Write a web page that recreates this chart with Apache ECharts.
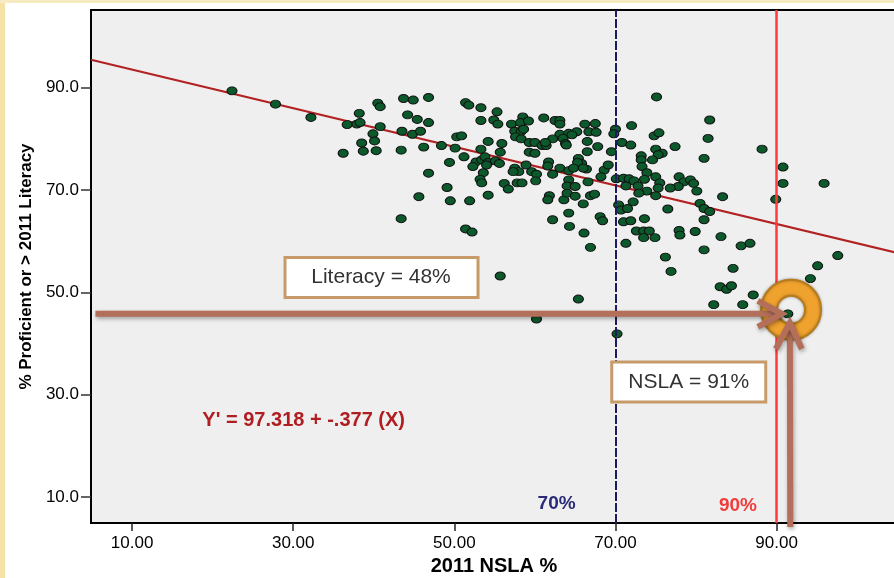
<!DOCTYPE html>
<html><head><meta charset="utf-8">
<script src="https://cdn.jsdelivr.net/npm/echarts@6/dist/echarts.min.js"></script>
<style>html,body{margin:0;padding:0;background:#fff;}#c{width:894px;height:578px;}</style>
</head><body><div id="c"></div>
<script>
// ---- Data ----
const xTicks = [10, 30, 50, 70, 90];
const yTicks = [10, 30, 50, 70, 90];
const nsla = [
22.4,27.8,32.2,40.5,40.8,38.2,43.7,44.9,46.8,44.2,45.4,46.8,36.7,37.9,38.3,40.8,39.9,43.5,44.8,45.8,
38.5,40.1,36.2,38.7,40.3,43.4,46.2,46.8,45.6,43.4,
51.4,51.8,53.3,55.3,53.3,54.9,55.4,57.1,58.5,58.2,59.2,57.5,58.3,58.6,57.6,58.3,61.1,62.5,63.1,63.1,
63.1,64.2,62.2,63.5,63.8,50.3,50.9,48.4,50.1,54.2,55.9,59.3,60.0,60.9,61.4,61.3,53.3,55.7,59.3,60.0,
51.2,49.4,52.7,53.4,53.8,54.2,55.1,55.6,52.3,54.0,57.5,58.0,57.3,58.9,59.6,60.2,61.7,61.6,62.2,63.1,
64.2,53.6,53.2,53.4,56.2,56.7,57.8,58.4,60.1,64.2,64.0,49.1,49.5,51.9,54.2,61.8,61.6,63.6,64.0,62.2,
64.2,64.3,51.4,52.2,
75.1,81.7,66.2,67.5,70.0,69.8,72.0,65.2,66.7,67.6,64.6,63.9,74.8,75.4,81.5,66.5,67.8,70.8,71.9,77.4,
75.0,75.8,75.3,74.6,66.5,69.5,73.2,73.2,65.4,65.8,65.3,81.0,73.3,73.9,64.8,66.4,66.0,68.6,69.1,68.2,
75.0,70.1,71.0,71.7,72.3,72.8,73.6,75.5,75.3,77.9,78.5,79.3,79.7,77.8,76.8,80.1,66.6,65.0,65.0,66.9,
67.4,66.0,71.3,73.9,72.9,75.0,72.2,70.4,70.7,71.5,76.5,80.5,81.0,68.1,68.4,71.0,71.9,73.6,81.0,72.6,
73.5,74.2,73.5,74.9,77.9,78.0,79.9,66.1,71.3,66.9,81.0,
88.2,90.8,90.8,95.9,89.9,83.3,81.7,83.1,85.6,86.7,97.6,95.1,84.6,94.2,83.0,83.8,84.4,87.1,82.2,85.8,
91.4,
76.2,76.9,55.7,65.4,60.2,70.2
];
const literacy = [
89.4,86.8,84.2,87.0,86.3,85.0,87.9,87.6,88.1,84.7,83.8,83.2,82.8,82.9,83.2,82.4,81.0,81.5,80.9,81.5,
79.2,79.6,77.2,77.6,77.7,77.8,78.4,73.3,68.7,64.4,
87.1,86.6,86.1,85.3,83.6,83.7,82.9,82.9,84.3,83.2,83.5,81.5,81.5,81.9,80.4,80.0,84.1,83.6,83.6,82.9,
80.9,81.1,80.0,80.1,79.1,80.4,80.6,78.7,78.2,79.5,79.1,79.3,79.3,78.7,78.7,79.3,78.0,77.4,77.4,77.2,
76.5,75.4,75.5,75.9,76.5,75.4,75.7,75.2,74.6,74.9,74.3,73.6,73.6,74.9,73.6,73.1,75.5,74.7,73.1,74.3,
73.8,73.4,72.1,71.4,71.3,70.2,71.4,71.4,71.8,72.0,70.8,70.5,67.9,67.9,69.0,68.9,68.1,68.1,69.4,64.2,
65.5,62.9,62.4,61.8,
88.2,83.7,82.9,83.0,81.9,81.0,82.6,81.4,81.4,81.3,80.8,78.8,80.6,81.2,80.1,79.5,78.5,79.3,78.8,78.5,
78.0,77.2,76.9,75.9,77.5,77.5,76.7,75.9,76.2,75.2,75.4,76.2,74.6,73.4,74.3,74.1,74.3,73.9,74.9,72.6,
72.6,72.2,72.3,72.2,71.8,70.8,72.1,71.4,70.4,72.6,71.6,72.0,71.3,70.7,70.4,69.8,71.6,70.7,68.8,68.9,
69.2,67.3,70.8,69.8,69.4,68.9,67.7,67.1,66.1,66.4,66.3,67.4,66.4,64.8,64.0,63.8,64.0,64.4,64.2,62.0,
62.0,62.0,60.7,60.7,62.1,61.2,61.9,61.6,59.6,58.8,58.3,
78.0,74.5,71.3,71.3,68.2,68.7,65.8,60.9,59.1,59.6,57.2,55.2,54.7,52.7,51.1,50.6,51.3,49.5,47.6,47.6,
45.8,
56.9,54.1,53.2,48.7,44.8,41.9
];
const regIntercept = 97.318;
const regSlope = -0.377;
const cutoffs = [70, 90];
const cutoffLabels = ['70%', '90%'];
const equationText = "Y' = 97.318 + -.377 (X)";
const literacyNote = 'Literacy = 48%';
const nslaNote = 'NSLA = 91%';
const focus = [91.4, 45.8];

// ---- Chart ----
const xMin = 4.9, xMax = 104.95, yMin = 4.92, yMax = 105.2;
const FONT = "'Liberation Sans', Arial, sans-serif";
const chart = echarts.init(document.getElementById('c'), null, {renderer: 'canvas'});
const pts = nsla.map((x, i) => [x, literacy[i]]);
const regLine = [[xMin, regIntercept + regSlope * xMin], [xMax, regIntercept + regSlope * xMax]];

chart.setOption({
  animation: false,
  backgroundColor: '#ffffff',
  grid: {left: 91, top: 10, right: -3, bottom: 55, show: true, backgroundColor: '#efefef',
         borderColor: '#000', borderWidth: 2, containLabel: false, outerBoundsMode: 'none'},
  xAxis: {
    type: 'value', min: xMin, max: xMax,
    name: '2011 NSLA %', nameLocation: 'middle', nameGap: 33,
    nameTextStyle: {fontFamily: FONT, fontWeight: 'bold', fontSize: 20, color: '#000'},
    axisLine: {show: true, lineStyle: {color: '#000', width: 2}},
    axisTick: {show: true, length: 8, customValues: xTicks, lineStyle: {color: '#222', width: 1.5}},
    axisLabel: {customValues: xTicks, margin: 12, formatter: v => v.toFixed(2),
                fontFamily: FONT, fontSize: 17, color: '#000'},
    splitLine: {show: false}
  },
  yAxis: {
    type: 'value', min: yMin, max: yMax,
    name: '% Proficient or > 2011 Literacy', nameLocation: 'middle', nameGap: 55, nameRotate: 90,
    nameTextStyle: {fontFamily: FONT, fontWeight: 'bold', fontSize: 17, color: '#000'},
    axisLine: {show: true, lineStyle: {color: '#000', width: 2}},
    axisTick: {show: true, length: 10, customValues: yTicks, lineStyle: {color: '#333', width: 1.5}},
    axisLabel: {customValues: yTicks, margin: 12, formatter: v => v.toFixed(1),
                fontFamily: FONT, fontSize: 17, color: '#000'},
    splitLine: {show: false}
  },
  series: [
    {type: 'line', data: regLine, symbol: 'none', z: 2,
     lineStyle: {color: '#b22222', width: 2.2}},
    {type: 'scatter', data: pts, symbol: 'circle', symbolSize: [10, 8], z: 3,
     itemStyle: {color: '#0c5a2c', borderColor: '#111', borderWidth: 1, opacity: 1}},
    {type: 'line', data: [], z: 4,
     markLine: {symbol: 'none', silent: true, label: {show: false},
       data: [
         {xAxis: cutoffs[0], lineStyle: {color: '#1c1c5e', width: 2, type: [9, 2]}},
         {xAxis: cutoffs[1], lineStyle: {color: '#ff3b3b', width: 2.5, type: 'solid'}}
       ]}}
  ]
});

function px(pt) { return chart.convertToPixel({gridIndex: 0}, pt); }

const cL = px([cutoffs[0] - 7.3, 8.6]);
const cR = px([cutoffs[1] - 4.8, 8.2]);
const eq = px([31.3, 24.9]);
const litC = px([40.9, 52.9]);
const nslC = px([79.1, 32.5]);
const fp = px(focus);
const hStart = px([5.45, focus[1]]);
const vBottom = px([focus[0] + 0.3, yMin]);
const ringC = px([focus[0] + 0.4, focus[1] + 0.8]);

const arrowColor = '#b36f5a';
const shadow = {shadowBlur: 4, shadowColor: 'rgba(0,0,0,0.35)', shadowOffsetX: 1, shadowOffsetY: 2};
const hTip = [fp[0] - 6, fp[1]];
const vTip = [fp[0] + 2, fp[1] + 9];

chart.setOption({
  graphic: [
    {type: 'rect', shape: {x: 0, y: 0, width: 5, height: 578}, style: {fill: '#f4e2a6'}, z: 1},
    {type: 'rect', shape: {x: 0, y: 0, width: 894, height: 3}, style: {fill: '#f7ebc2'}, z: 1},
    {type: 'text', x: cL[0], y: cL[1], z: 20,
     style: {text: cutoffLabels[0], fill: '#2a2a78', font: "bold 19px " + FONT, align: 'center', verticalAlign: 'middle'}},
    {type: 'text', x: cR[0], y: cR[1], z: 20,
     style: {text: cutoffLabels[1], fill: '#f03c3c', font: "bold 19px " + FONT, align: 'center', verticalAlign: 'middle'}},
    {type: 'text', x: eq[0], y: eq[1], z: 20,
     style: {text: equationText, fill: '#b01e22', font: "bold 20px " + FONT, align: 'center', verticalAlign: 'middle'}},
    // Literacy box
    {type: 'rect', z: 20, shape: {x: litC[0] - 96, y: litC[1] - 20, width: 193, height: 40},
     style: {fill: '#fff', stroke: '#c79a6a', lineWidth: 3}},
    {type: 'text', x: litC[0], y: litC[1], z: 21,
     style: {text: literacyNote, fill: '#333', font: "21px " + FONT, align: 'center', verticalAlign: 'middle'}},
    // NSLA box
    {type: 'rect', z: 20, shape: {x: nslC[0] - 77, y: nslC[1] - 20, width: 154, height: 40},
     style: {fill: '#fff', stroke: '#c79a6a', lineWidth: 3}},
    {type: 'text', x: nslC[0], y: nslC[1], z: 21,
     style: {text: nslaNote, fill: '#333', font: "21px " + FONT, align: 'center', verticalAlign: 'middle'}},
    // Ring
    {type: 'ring', z: 22, shape: {cx: ringC[0], cy: ringC[1], r: 30, r0: 14},
     style: {fill: '#f0a22e', stroke: '#b57b1c', lineWidth: 2, shadowBlur: 3, shadowColor: 'rgba(0,0,0,0.3)'}},
    // Horizontal arrow
    {type: 'line', z: 23, shape: {x1: hStart[0], y1: hStart[1], x2: hTip[0], y2: hTip[1]},
     style: Object.assign({stroke: arrowColor, lineWidth: 6}, shadow)},
    {type: 'polyline', z: 23, shape: {points: [[hTip[0] - 24, hTip[1] - 13], hTip, [hTip[0] - 24, hTip[1] + 13]]},
     style: Object.assign({stroke: arrowColor, lineWidth: 6, fill: null}, shadow)},
    // Vertical arrow
    {type: 'line', z: 23, shape: {x1: vBottom[0], y1: vBottom[1] + 4, x2: vTip[0], y2: vTip[1]},
     style: Object.assign({stroke: arrowColor, lineWidth: 6}, shadow)},
    {type: 'polyline', z: 23, shape: {points: [[vTip[0] - 14, vTip[1] + 26], vTip, [vTip[0] + 12, vTip[1] + 26]]},
     style: Object.assign({stroke: arrowColor, lineWidth: 6, fill: null}, shadow)}
  ]
});
</script></body></html>
